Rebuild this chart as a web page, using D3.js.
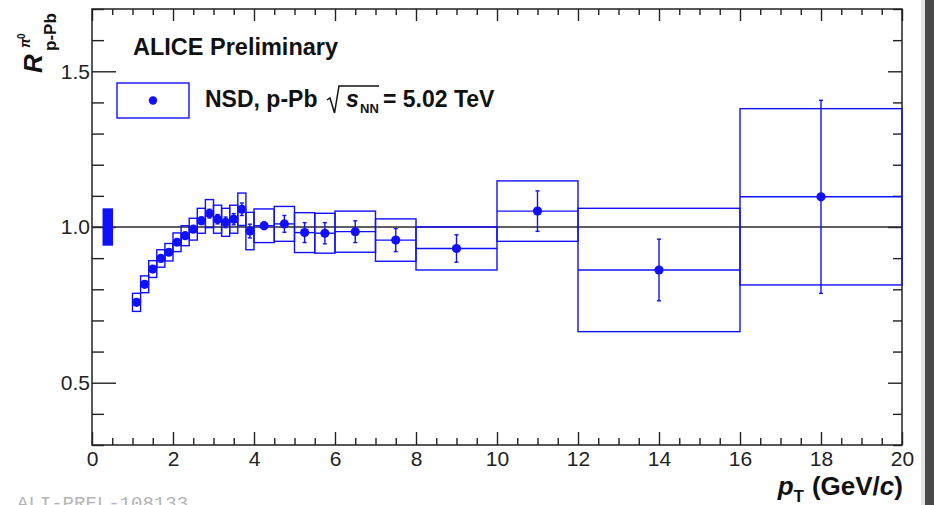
<!DOCTYPE html>
<html>
  <head>
    <meta charset="utf-8">
    <title>ALICE pi0 R_pPb</title>
    <script src="https://d3js.org/d3.v7.min.js"></script>
    <style>
      body { margin: 0; background: #fff; }
      svg { display: block; font-family: "Liberation Sans", Arial, sans-serif; }
    </style>
  </head>
  <body>
    <div id="chart"></div>
    <script>
      // pT bins (GeV/c)
      var binLo = [1.0, 1.2, 1.4, 1.6, 1.8, 2.0, 2.2, 2.4, 2.6, 2.8, 3.0, 3.2, 3.4, 3.6, 3.8, 4.0, 4.5, 5.0, 5.5, 6.0, 7.0, 8.0, 10.0, 12.0, 16.0];
      var binHi = [1.2, 1.4, 1.6, 1.8, 2.0, 2.2, 2.4, 2.6, 2.8, 3.0, 3.2, 3.4, 3.6, 3.8, 4.0, 4.5, 5.0, 5.5, 6.0, 7.0, 8.0, 10.0, 12.0, 16.0, 20.0];
      // R_pPb values, statistical and systematic uncertainties
      var rpPb = [0.758, 0.816, 0.865, 0.899, 0.919, 0.951, 0.972, 0.993, 1.020, 1.043, 1.025, 1.015, 1.025, 1.057, 0.987, 1.004, 1.010, 0.982, 0.980, 0.985, 0.958, 0.931, 1.051, 0.862, 1.097];
      var statErr = [0.006, 0.006, 0.006, 0.006, 0.006, 0.007, 0.008, 0.009, 0.012, 0.014, 0.015, 0.017, 0.018, 0.02, 0.022, 0.012, 0.027, 0.032, 0.034, 0.035, 0.037, 0.044, 0.065, 0.099, 0.31];
      var systErr = [0.029, 0.027, 0.027, 0.028, 0.028, 0.030, 0.032, 0.035, 0.040, 0.045, 0.045, 0.045, 0.045, 0.052, 0.060, 0.054, 0.056, 0.064, 0.064, 0.066, 0.068, 0.069, 0.097, 0.198, 0.283];
      // normalisation uncertainty box drawn at low pT
      var normBox = {lo: 0.26, hi: 0.52, value: 1.0, err: 0.06};

      var xTicks = [0, 2, 4, 6, 8, 10, 12, 14, 16, 18, 20];
      var yTicks = [0.5, 1.0, 1.5];

      var width = 934, height = 505;
      var blue = "#1010ff";

      var data = binLo.map(function(lo, i) {
        return {lo: lo, hi: binHi[i], pt: (lo + binHi[i]) / 2, r: rpPb[i], stat: statErr[i], syst: systErr[i]};
      });

      var x = d3.scaleLinear().domain([0, 20]).range([92, 902]);
      var y = d3.scaleLinear().domain([0.3, 1.7]).range([445, 9]);

      var svg = d3.select("#chart").append("svg")
                  .attr("width", width)
                  .attr("height", height);

      svg.append("rect").attr("width", width).attr("height", height).attr("fill", "#fff");
      // window edge strips on the right
      svg.append("rect").attr("x", 921).attr("y", 0).attr("width", 4).attr("height", height).attr("fill", "#e4e4e4");
      svg.append("rect").attr("x", 925).attr("y", 0).attr("width", 9).attr("height", height).attr("fill", "#494949");

      // axes: ticks point inward like ROOT
      var minorX = d3.range(0, 20.01, 0.5).filter(function(v) { return v % 2 !== 0; });
      var minorY = d3.range(0.3, 1.701, 0.1).map(function(v) { return +v.toFixed(1); })
                     .filter(function(v) { return yTicks.indexOf(v) < 0; });

      function styleAxis(g) {
        g.select(".domain").remove();
        g.selectAll("line").attr("stroke", "#222").attr("stroke-width", 1.4);
        g.selectAll("text").attr("fill", "#222").style("font-size", "21px")
         .style("font-family", "'Liberation Sans', Arial, sans-serif");
      }

      svg.append("g").attr("transform", "translate(0,445)")
         .call(d3.axisBottom(x).tickValues(xTicks).tickSize(-13).tickPadding(6).tickFormat(d3.format("d")))
         .call(styleAxis);
      svg.append("g").attr("transform", "translate(0,445)")
         .call(d3.axisBottom(x).tickValues(minorX).tickSize(-7).tickFormat(""))
         .call(styleAxis);
      svg.append("g").attr("transform", "translate(0,9)")
         .call(d3.axisTop(x).tickValues(xTicks).tickSize(-12).tickFormat(""))
         .call(styleAxis);
      svg.append("g").attr("transform", "translate(0,9)")
         .call(d3.axisTop(x).tickValues(minorX).tickSize(-6).tickFormat(""))
         .call(styleAxis);

      svg.append("g").attr("transform", "translate(92,0)")
         .call(d3.axisLeft(y).tickValues(yTicks).tickSize(-24).tickPadding(2).tickFormat(d3.format(".1f")))
         .call(styleAxis);
      svg.append("g").attr("transform", "translate(92,0)")
         .call(d3.axisLeft(y).tickValues(minorY).tickSize(-12).tickFormat(""))
         .call(styleAxis);
      svg.append("g").attr("transform", "translate(902,0)")
         .call(d3.axisRight(y).tickValues(yTicks).tickSize(-14).tickFormat(""))
         .call(styleAxis);
      svg.append("g").attr("transform", "translate(902,0)")
         .call(d3.axisRight(y).tickValues(minorY).tickSize(-9).tickFormat(""))
         .call(styleAxis);

      // frame
      svg.append("rect")
         .attr("x", x(0)).attr("y", y(1.7))
         .attr("width", x(20) - x(0)).attr("height", y(0.3) - y(1.7))
         .attr("fill", "none").attr("stroke", "#222").attr("stroke-width", 1.5);

      // unity line
      svg.append("line")
         .attr("x1", x(0)).attr("x2", x(20))
         .attr("y1", y(1)).attr("y2", y(1))
         .attr("stroke", "#2a2a2a").attr("stroke-width", 1.6);

      // normalisation box
      svg.append("rect")
         .attr("x", x(normBox.lo)).attr("width", x(normBox.hi) - x(normBox.lo))
         .attr("y", y(normBox.value + normBox.err))
         .attr("height", y(normBox.value - normBox.err) - y(normBox.value + normBox.err))
         .attr("fill", blue);

      // systematic boxes
      svg.selectAll("rect.syst").data(data).enter().append("rect")
         .attr("class", "syst")
         .attr("x", function(d) { return x(d.lo); })
         .attr("width", function(d) { return x(d.hi) - x(d.lo); })
         .attr("y", function(d) { return y(d.r + d.syst); })
         .attr("height", function(d) { return y(d.r - d.syst) - y(d.r + d.syst); })
         .attr("fill", "none").attr("stroke", blue).attr("stroke-width", 1.4);

      // horizontal bin-width bars
      svg.selectAll("line.xerr").data(data).enter().append("line")
         .attr("class", "xerr")
         .attr("x1", function(d) { return x(d.lo); })
         .attr("x2", function(d) { return x(d.hi); })
         .attr("y1", function(d) { return y(d.r); })
         .attr("y2", function(d) { return y(d.r); })
         .attr("stroke", blue).attr("stroke-width", 1.4);

      // statistical bars
      svg.selectAll("line.stat").data(data).enter().append("line")
         .attr("class", "stat")
         .attr("x1", function(d) { return x(d.pt); })
         .attr("x2", function(d) { return x(d.pt); })
         .attr("y1", function(d) { return y(d.r + d.stat); })
         .attr("y2", function(d) { return y(d.r - d.stat); })
         .attr("stroke", blue).attr("stroke-width", 1.4);
      [1, -1].forEach(function(s) {
        svg.selectAll("line.cap" + s).data(data).enter().append("line")
           .attr("x1", function(d) { return x(d.pt) - 2; })
           .attr("x2", function(d) { return x(d.pt) + 2; })
           .attr("y1", function(d) { return y(d.r + s * d.stat); })
           .attr("y2", function(d) { return y(d.r + s * d.stat); })
           .attr("stroke", blue).attr("stroke-width", 1.4);
      });

      // markers
      svg.selectAll("circle.pt").data(data).enter().append("circle")
         .attr("class", "pt")
         .attr("cx", function(d) { return x(d.pt); })
         .attr("cy", function(d) { return y(d.r); })
         .attr("r", 4.6)
         .attr("fill", blue);

      // axis titles
      var xt = svg.append("text")
         .attr("x", 903).attr("y", 495)
         .attr("text-anchor", "end")
         .style("font-size", "26px").style("font-weight", "bold").attr("fill", "#111");
      xt.append("tspan").style("font-style", "italic").text("p");
      xt.append("tspan").attr("dy", 7).style("font-size", "17px").text("T");
      xt.append("tspan").attr("dy", -7).attr("dx", 8).text("(GeV/");
      xt.append("tspan").style("font-style", "italic").text("c");
      xt.append("tspan").text(")");

      var yt = svg.append("g").attr("transform", "translate(42,73) rotate(-90)")
                  .attr("fill", "#111").style("font-weight", "bold");
      yt.append("text").attr("x", 0).attr("y", 0)
        .style("font-size", "26px").style("font-style", "italic").text("R");
      yt.append("text").attr("x", 25).attr("y", -12)
        .style("font-size", "14px").style("font-style", "italic").text("π");
      yt.append("text").attr("x", 34).attr("y", -17)
        .style("font-size", "10px").text("0");
      yt.append("text").attr("x", 22).attr("y", 14)
        .style("font-size", "17px").text("p-Pb");

      // header and legend
      svg.append("text")
         .attr("x", 133).attr("y", 55)
         .style("font-size", "23.5px").style("font-weight", "bold").attr("fill", "#111")
         .text("ALICE Preliminary");

      svg.append("rect")
         .attr("x", 117).attr("y", 83).attr("width", 72).attr("height", 35)
         .attr("fill", "none").attr("stroke", blue).attr("stroke-width", 1.4);
      svg.append("circle").attr("cx", 153).attr("cy", 100.5).attr("r", 4.2).attr("fill", blue);

      var lg = svg.append("g").attr("fill", "#111").style("font-weight", "bold");
      lg.append("text").attr("x", 205).attr("y", 107).style("font-size", "23px").text("NSD, p-Pb");
      lg.append("path")
        .attr("d", "M327,100 L330,98 L334.5,113 L339,86 L379,86")
        .attr("fill", "none").attr("stroke", "#111").attr("stroke-width", 1.5);
      lg.append("text").attr("x", 346).attr("y", 107).style("font-size", "23px")
        .style("font-style", "italic").text("s");
      lg.append("text").attr("x", 360).attr("y", 113).style("font-size", "13px").text("NN");
      lg.append("text").attr("x", 383).attr("y", 107).style("font-size", "23px").text("= 5.02 TeV");

      // figure id, cut at the bottom edge as in the source image
      svg.append("text")
         .attr("x", 17).attr("y", 509)
         .style("font-family", "'Liberation Mono', 'DejaVu Sans Mono', monospace")
         .style("font-size", "19px").attr("fill", "#b4b4b4")
         .text("ALI-PREL-108133");
    </script>
  </body>
</html>
